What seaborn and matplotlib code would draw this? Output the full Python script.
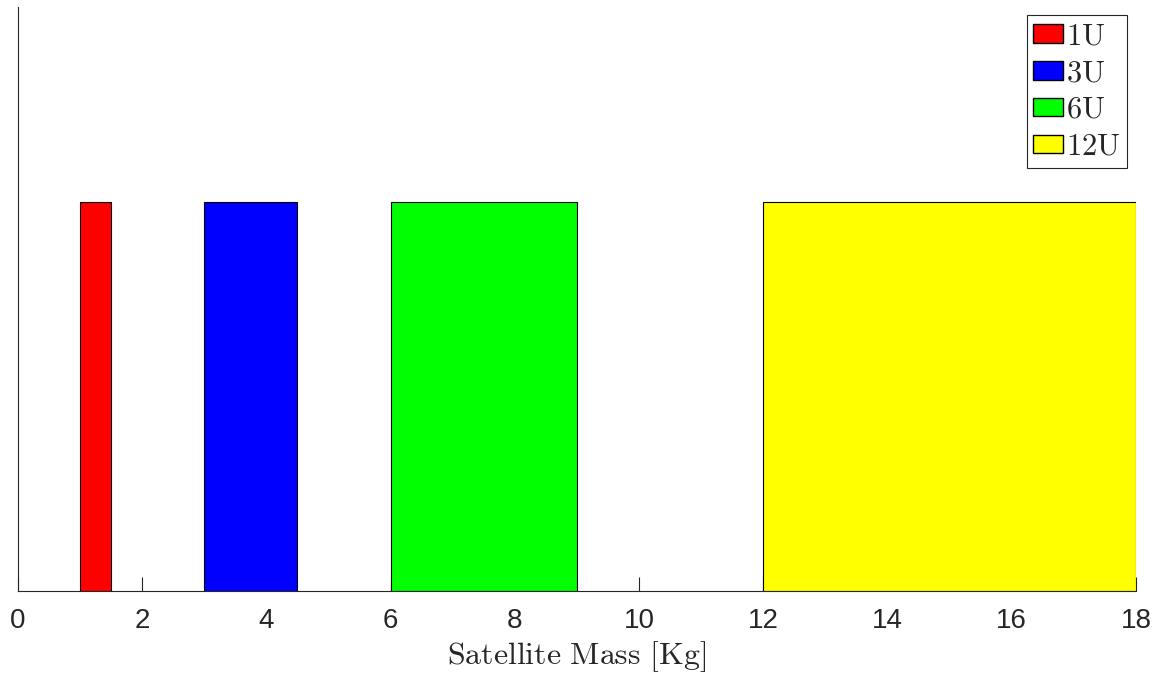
import matplotlib
matplotlib.use("Agg")
import matplotlib.pyplot as plt
import seaborn as sns
from matplotlib.patches import Patch

sizes = ["1U", "3U", "6U", "12U"]
mass_min = [1, 3, 6, 12]
mass_max = [1.5, 4.5, 9, 18]
heights = [1, 1, 1, 1]
colors = ["#ff0000", "#0000ff", "#00ff00", "#ffff00"]
xticks = [0, 2, 4, 6, 8, 10, 12, 14, 16, 18]

sns.set_theme(style="ticks")
plt.rcParams["font.family"] = ["Liberation Sans", "DejaVu Sans"]
plt.rcParams["mathtext.fontset"] = "cm"

fig = plt.figure(figsize=(11.58, 6.75), dpi=100)
ax = fig.add_axes([0.0155, 0.1244, 0.9655, 0.865])

widths = [b - a for a, b in zip(mass_min, mass_max)]
for lab, a, w, h, c in zip(sizes, mass_min, widths, heights, colors):
    ax.bar(a, h, width=w, align="edge", color=c, edgecolor="black", linewidth=0.8, label=lab)

ax.set_xlim(0, 18)
ax.set_ylim(0, 1.5)
ax.set_xticks(xticks)
ax.set_xticklabels([str(t) for t in xticks], fontsize=20, color="#262626")
ax.set_yticks([])
ax.tick_params(axis="x", direction="in", length=10, width=0.8, color="#262626", pad=12)
for s in ["top", "right"]:
    ax.spines[s].set_visible(False)
for s in ["left", "bottom"]:
    ax.spines[s].set_color("#262626")
    ax.spines[s].set_linewidth(0.8)

ax.set_xlabel(r"$\mathrm{Satellite\ Mass\ [Kg]}$", fontsize=23, labelpad=4, color="#262626")

handles = [Patch(facecolor=c, edgecolor="black", label=r"$\mathrm{%s}$" % l) for l, c in zip(sizes, colors)]
leg = ax.legend(handles=handles, loc="upper right", bbox_to_anchor=(0.992, 0.986), fontsize=22,
                frameon=True, fancybox=False, edgecolor="#262626", framealpha=1,
                handlelength=1.0, handleheight=0.55, handletextpad=0.1, labelspacing=0.22,
                borderpad=0.2, borderaxespad=0)
leg.get_frame().set_linewidth(0.8)

fig.savefig("out.png", dpi=100)
